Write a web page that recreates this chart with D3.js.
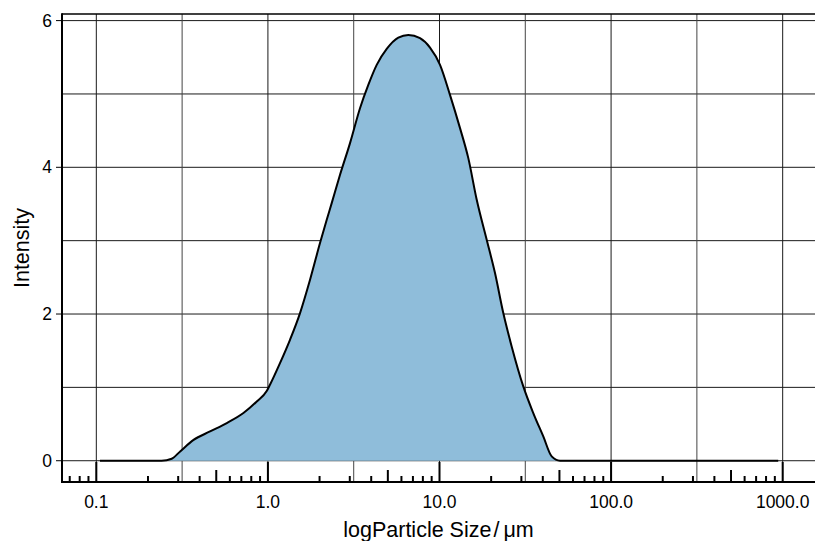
<!DOCTYPE html>
<html>
<head>
<meta charset="utf-8">
<script src="https://cdn.jsdelivr.net/npm/d3@7/dist/d3.min.js"></script>
<style>
  html, body { margin: 0; padding: 0; background: #fff; }
  svg { display: block; }
  text { font-family: "Liberation Sans", Arial, Helvetica, sans-serif; fill: #000; }
</style>
</head>
<body>
<svg id="chart" width="815" height="541"></svg>
<script>
// Particle size distribution (intensity vs. particle size, log axis)
const sizes = [0.105, 0.240, 0.275, 0.308, 0.367, 0.460, 0.576, 0.720, 0.861, 0.984,
  1.028, 1.176, 1.345, 1.539, 1.760, 2.012, 2.202, 2.354, 2.632, 3.010,
  3.441, 3.847, 4.306, 4.924, 5.754, 6.580, 7.699, 8.805, 10.07, 11.51,
  13.17, 14.72, 16.48, 18.84, 21.06, 23.54, 26.34, 30.78, 35.20, 40.26,
  45.07, 50.38, 942];
const intensity = [0, 0, 0.027, 0.127, 0.280, 0.399, 0.514, 0.650, 0.808, 0.950,
  1.036, 1.331, 1.649, 2.013, 2.467, 2.967, 3.284, 3.512, 3.898, 4.330,
  4.806, 5.124, 5.397, 5.615, 5.769, 5.805, 5.760, 5.632, 5.397, 4.988,
  4.534, 4.125, 3.557, 3.012, 2.558, 2.013, 1.558, 1.013, 0.650, 0.331,
  0.059, 0, 0];

const xTickValues = [0.1, 1, 10, 100, 1000];
const xTickLabels = ["0.1", "1.0", "10.0", "100.0", "1000.0"];
const xHalfDecades = [0.1 * Math.sqrt(10), Math.sqrt(10), 10 * Math.sqrt(10), 100 * Math.sqrt(10)];
const yTickValues = [0, 2, 4, 6];
const yGridValues = [0, 1, 2, 3, 4, 5, 6];
const xTitleParts = ["logParticle Size", "/", "μm"];
const yTitle = "Intensity";

const points = sizes.map((s, i) => ({ size: s, value: intensity[i] }));

const W = 815, H = 541;
const plot = { left: 62, top: 14, right: 817, bottom: 482 };

const svg = d3.select("#chart");

const x = d3.scaleLog()
  .domain([Math.pow(10, -1.2), Math.pow(10, 3.2)])
  .range([plot.left, plot.right]);
const y = d3.scaleLinear()
  .domain([-0.29, 6.09])
  .range([plot.bottom, plot.top]);

// grid: decade lines darker than half-decade lines
const grid = svg.append("g").attr("stroke-width", 1);
grid.selectAll("line.h").data(yGridValues).join("line")
  .attr("stroke", "#1a1a1a")
  .attr("x1", plot.left).attr("x2", W)
  .attr("y1", d => y(d)).attr("y2", d => y(d));
grid.selectAll("line.v").data(xTickValues).join("line")
  .attr("stroke", "#1a1a1a")
  .attr("x1", d => x(d)).attr("x2", d => x(d))
  .attr("y1", plot.top).attr("y2", plot.bottom);
grid.selectAll("line.vh").data(xHalfDecades).join("line")
  .attr("stroke", "#444")
  .attr("x1", d => x(d)).attr("x2", d => x(d))
  .attr("y1", plot.top).attr("y2", plot.bottom);

// filled distribution
const curve = d3.curveMonotoneX;
const area = d3.area()
  .curve(curve)
  .x(d => x(d.size))
  .y0(y(0))
  .y1(d => y(d.value));
svg.append("path")
  .datum(points)
  .attr("fill", "#8fbdda")
  .attr("d", area);

const line = d3.line()
  .curve(curve)
  .x(d => x(d.size))
  .y(d => y(d.value));
svg.append("path")
  .datum(points)
  .attr("fill", "none")
  .attr("stroke", "#000")
  .attr("stroke-width", 2)
  .attr("stroke-linejoin", "round")
  .attr("d", line);

// frame
const frame = svg.append("g").attr("stroke", "#000").attr("fill", "none");
frame.append("line").attr("x1", plot.left).attr("x2", W).attr("y1", plot.top).attr("y2", plot.top).attr("stroke-width", 1.5);
frame.append("line").attr("x1", plot.left).attr("x2", plot.left).attr("y1", plot.top - 0.75).attr("y2", plot.bottom + 1).attr("stroke-width", 2);
frame.append("line").attr("x1", plot.left - 1).attr("x2", W).attr("y1", plot.bottom).attr("y2", plot.bottom).attr("stroke-width", 2);

// bottom axis: inward ticks, longer at decades and at 5x
const xMin = x.domain()[0], xMax = x.domain()[1];
const minorTicks = [];
for (let e = -2; e <= 3; e++) {
  for (let m = 1; m <= 9; m++) {
    const v = m * Math.pow(10, e);
    if (v >= xMin && v <= xMax) minorTicks.push({ v, len: m === 1 ? 20 : (m === 5 ? 12 : 6) });
  }
}
svg.append("g").attr("stroke", "#000").attr("stroke-width", 2)
  .selectAll("line").data(minorTicks).join("line")
  .attr("x1", d => x(d.v)).attr("x2", d => x(d.v))
  .attr("y1", plot.bottom).attr("y2", d => plot.bottom - d.len);

svg.append("g").selectAll("text").data(xTickValues).join("text")
  .attr("x", d => x(d))
  .attr("y", 507.5)
  .attr("text-anchor", "middle")
  .attr("font-size", 17.5)
  .text((d, i) => xTickLabels[i]);

// left axis
const yAxis = svg.append("g");
yAxis.selectAll("line").data(yTickValues).join("line")
  .attr("x1", plot.left - 6).attr("x2", plot.left)
  .attr("y1", d => y(d)).attr("y2", d => y(d))
  .attr("stroke", "#000").attr("stroke-width", 1);
yAxis.selectAll("text").data(yTickValues).join("text")
  .attr("x", 52)
  .attr("y", d => y(d))
  .attr("dy", "0.35em")
  .attr("text-anchor", "end")
  .attr("font-size", 17.5)
  .text(d => d);

// axis titles
const xt = svg.append("text")
  .attr("x", 438.5)
  .attr("y", 537)
  .attr("text-anchor", "middle")
  .attr("font-size", 21.5);
xt.append("tspan").text(xTitleParts[0]);
xt.append("tspan").attr("dx", 2).text(xTitleParts[1]);
xt.append("tspan").attr("dx", 4).text(xTitleParts[2]);

svg.append("text")
  .attr("transform", `translate(28.5,${(plot.top + plot.bottom) / 2}) rotate(-90)`)
  .attr("text-anchor", "middle")
  .attr("font-size", 21.5)
  .text(yTitle);
</script>
</body>
</html>
